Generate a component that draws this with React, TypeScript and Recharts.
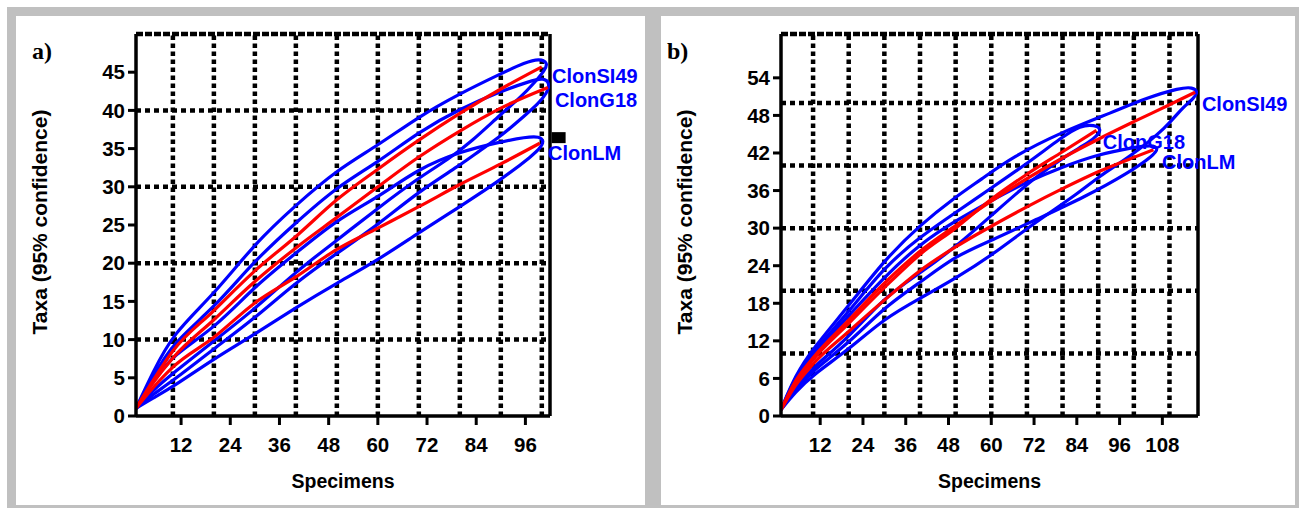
import React from "react";
import { LineChart, Line, XAxis, YAxis, ReferenceLine, ReferenceDot, Label } from "recharts";

type Pt = { x: number; y: number };
const pts = (rows: number[][]): Pt[] => rows.map(([x, y]) => ({ x, y }));

// ---- panel a ----
const aTicksX = [12, 24, 36, 48, 60, 72, 84, 96];
const aTicksY = [0, 5, 10, 15, 20, 25, 30, 35, 40, 45];
const aGridX = [10, 20, 30, 40, 50, 60, 70, 80, 90, 100];
const aGridY = [10, 20, 30, 40];

const aSI49Mean = pts([[1, 1], [5, 4.5], [10, 8.5], [20, 13.8], [30, 19], [40, 23.5], [50, 28.3], [60, 32.3], [70, 36.1], [80, 39.6], [90, 42.8], [100, 45.7]]);
const aSI49Band = pts([
  [1, 1], [5, 5.6], [10, 10.8], [20, 15.9], [30, 22.6], [40, 27.6], [50, 32.2], [60, 35.4], [70, 39.2], [80, 42.2], [90, 44.8], [96, 46.3], [99.5, 46.8], [101.5, 46.2],
  [100.8, 45.3], [98, 43.5], [95, 41.8], [90, 39.5], [83, 36], [77, 33.5], [70, 31.2], [60, 27.2], [50, 23], [40, 18.9], [30, 14], [20, 9.8], [10, 5.6], [5, 3.3], [1, 1],
]);
const aG18Mean = pts([[1, 1], [5, 4.2], [10, 7.6], [20, 12.6], [30, 17.6], [40, 22], [50, 26], [60, 30], [70, 33.9], [80, 37.3], [90, 40.3], [101.5, 43]]);
const aG18Band = pts([
  [1, 1], [5, 5], [10, 9.6], [20, 14.1], [30, 20.4], [40, 25.3], [50, 30], [60, 33.2], [70, 37.2], [80, 40.2], [90, 42.5], [97, 43.8], [100.5, 44.3], [102, 43.5],
  [101.3, 42.3], [99, 40.8], [96, 39.4], [90, 36.6], [85, 34.8], [80, 32.8], [70, 29.4], [60, 25], [50, 21.3], [40, 17.5], [30, 12.8], [20, 8.8], [10, 4.6], [5, 2.8], [1, 1],
]);
const aLMMean = pts([[1, 1], [5, 3.6], [10, 6.4], [20, 10.3], [30, 14.8], [40, 18.2], [50, 21.8], [60, 24.6], [70, 27.4], [80, 30.3], [90, 33], [99.5, 35.7]]);
const aLMBand = pts([
  [1, 1], [5, 4.4], [10, 8], [20, 11.4], [30, 17], [40, 21.3], [50, 25.7], [60, 28.6], [70, 32.4], [80, 34.6], [90, 35.9], [96, 36.5], [99.5, 36.6], [100.5, 36],
  [99.8, 35.2], [98, 34.2], [90, 30.9], [80, 27.4], [70, 24], [60, 20.4], [50, 17.4], [40, 14.2], [30, 10.7], [20, 7.5], [10, 3.8], [5, 2.3], [1, 1],
]);

// ---- panel b ----
const bTicksX = [12, 24, 36, 48, 60, 72, 84, 96, 108];
const bTicksY = [0, 6, 12, 18, 24, 30, 36, 42, 48, 54];
const bGridX = [10, 20, 30, 40, 50, 60, 70, 80, 90, 100, 110];
const bGridY = [10, 20, 30, 40, 50];

const bSI49Mean = pts([[1, 1], [5, 5.5], [10, 9.3], [20, 15.3], [30, 21.2], [40, 26.3], [50, 30.4], [60, 34.3], [70, 37.9], [80, 41.2], [90, 44.2], [100, 47], [110, 49.7], [117.2, 51.7]]);
const bSI49Band = pts([
  [1, 1], [5, 6.5], [10, 10.8], [20, 17.6], [30, 24.9], [40, 30.5], [50, 35], [57, 37.7], [66, 41.4], [80, 45.4], [94, 48.5], [103.6, 50.8], [113, 52.4], [116.5, 52.5], [118, 51.8],
  [117, 50.8], [113, 48.9], [109.4, 46.2], [99, 41.4], [90, 38.2], [85, 35.8], [71, 30.4], [60, 25.6], [50, 22], [40, 18.8], [30, 15.6], [20, 10.6], [10, 6.6], [5, 3.8], [1, 1],
]);
const bG18Mean = pts([[1, 1], [5, 5.3], [10, 9], [20, 14.8], [30, 20.5], [40, 25.8], [50, 30], [60, 34.6], [70, 38.6], [80, 42.2], [89.5, 45.6]]);
const bG18Band = pts([
  [1, 1], [5, 6.2], [10, 10.3], [20, 16.6], [30, 23.8], [40, 28.6], [50, 32.5], [60, 36.4], [70, 40.3], [80, 44.6], [85, 46.4], [89, 46.5], [91, 45.8],
  [89.5, 44.6], [86, 43.2], [81.6, 41.8], [72.3, 38.2], [60, 32], [50, 27], [40, 22.8], [30, 19], [20, 12.5], [10, 7.8], [5, 4.6], [1, 1],
]);
const bLMMean = pts([[1, 1], [5, 4.8], [10, 8.3], [20, 13.5], [30, 18.5], [40, 23.2], [50, 27], [60, 30.3], [70, 33.4], [80, 36.3], [90, 39], [100, 41.3], [105.5, 42.5]]);
const bLMBand = pts([
  [1, 1], [5, 5.8], [10, 9.8], [20, 16], [30, 22.2], [40, 27.5], [50, 31.2], [60, 34.4], [70, 37.4], [80, 39.8], [90, 41.8], [100, 42.9], [105, 43.3], [107, 42.8],
  [105.5, 41.6], [98.4, 38.8], [86.3, 35], [72.3, 31.3], [60, 28], [50, 25.6], [40, 21.3], [30, 17.4], [20, 11.6], [10, 7.3], [5, 4.2], [1, 1],
]);

const SANS = "'Liberation Sans', Arial, Helvetica, sans-serif";
const RED = "#ff0000";
const BLUE = "#0000ff";

const tickStyle = { fill: "#000", fontSize: 20.5, fontWeight: 700, fontFamily: SANS };
const seriesLabel = { fill: BLUE, fontSize: 20, fontWeight: 700, fontFamily: SANS };

function YTitle(props: any) {
  const vb = props.viewBox || { x: 20, y: 18, width: 100, height: 382 };
  const cx = vb.x + 3;
  const cy = vb.y + vb.height / 2 - 3;
  return (
    <text x={cx} y={cy} transform={`rotate(-90, ${cx}, ${cy})`} textAnchor="middle" dominantBaseline="central"
      fill="#000" fontSize={21} fontWeight={700} fontFamily={SANS}>
      Taxa (95% confidence)
    </text>
  );
}

function XTitle(props: any) {
  const vb = props.viewBox || { x: 120, y: 400, width: 414, height: 80 };
  return (
    <text x={vb.x + vb.width / 2} y={vb.y + 72} textAnchor="middle" fill="#000" fontSize={19.5} fontWeight={700} fontFamily={SANS}>
      Specimens
    </text>
  );
}

type Series = { mean: Pt[]; band: Pt[] };

function Panel(props: {
  width: number; right: number; xMax: number; yMax: number; xTicks: number[]; yTicks: number[];
  gridX: number[]; gridY: number[]; series: Series[]; extras: React.ReactNode[];
}) {
  const { width, xMax, yMax } = props;
  return (
    <LineChart width={width} height={489} margin={{ top: 18, right: props.right, bottom: 9, left: 20 }}>
      <XAxis dataKey="x" type="number" domain={[1, xMax]} ticks={props.xTicks} interval={0} allowDataOverflow
        height={80} tick={tickStyle} tickSize={9} tickMargin={12}
        axisLine={{ stroke: "#000", strokeWidth: 3.5 }} tickLine={{ stroke: "#000", strokeWidth: 3 }}>
        <Label content={XTitle} />
      </XAxis>
      <YAxis type="number" domain={[0, yMax]} ticks={props.yTicks} interval={0} allowDataOverflow
        width={100} tick={tickStyle} tickSize={8} tickMargin={3}
        axisLine={{ stroke: "#000", strokeWidth: 3.5 }} tickLine={{ stroke: "#000", strokeWidth: 3 }}>
        <Label content={YTitle} />
      </YAxis>
      {props.gridX.map((v) => (
        <ReferenceLine key={"gx" + v} x={v} stroke="#000" strokeWidth={4.5} strokeDasharray="4.5 3.5" />
      ))}
      {props.gridY.map((v) => (
        <ReferenceLine key={"gy" + v} y={v} stroke="#000" strokeWidth={4.5} strokeDasharray="5 4" />
      ))}
      <ReferenceLine y={yMax} stroke="#000" strokeWidth={4.5} strokeDasharray="7 2" />
      <ReferenceLine x={xMax} stroke="#000" strokeWidth={3.5} />
      {props.series.map((s, i) => (
        <Line key={"b" + i} data={s.band} dataKey="y" type="basis" stroke={BLUE} strokeWidth={3.2} dot={false} activeDot={false} isAnimationActive={false} />
      ))}
      {props.series.map((s, i) => (
        <Line key={"m" + i} data={s.mean} dataKey="y" type="monotone" stroke={RED} strokeWidth={3.2} dot={false} activeDot={false} isAnimationActive={false} />
      ))}
      {props.extras}
    </LineChart>
  );
}

const letterStyle: React.CSSProperties = {
  position: "absolute", top: 39, fontFamily: "'Liberation Serif', 'Times New Roman', serif",
  fontWeight: 700, fontSize: 24, lineHeight: 1, color: "#000",
};

export default function App() {
  const aExtras = [
    <ReferenceDot key="l1" x={102.5} y={44.5} r={0} ifOverflow="visible" label={{ value: "ClonSI49", position: "right", offset: 0, ...seriesLabel }} />,
    <ReferenceDot key="l2" x={103.2} y={41.4} r={0} ifOverflow="visible" label={{ value: "ClonG18", position: "right", offset: 0, ...seriesLabel }} />,
    <ReferenceDot key="l3" x={101.5} y={34.4} r={0} ifOverflow="visible" label={{ value: "ClonLM", position: "right", offset: 0, ...seriesLabel }} />,
    <ReferenceDot key="sq" x={104.1} y={36.5} r={6} ifOverflow="visible"
      shape={(p: any) => <rect x={p.cx - 7} y={p.cy - 5} width={14} height={11} fill="#000" />} />,
  ];
  const bExtras = [
    <ReferenceDot key="l1" x={119.1} y={49.8} r={0} ifOverflow="visible" label={{ value: "ClonSI49", position: "right", offset: 0, ...seriesLabel }} />,
    <ReferenceDot key="l2" x={91.3} y={43.7} r={0} ifOverflow="visible" label={{ value: "ClonG18", position: "right", offset: 0, ...seriesLabel }} />,
    <ReferenceDot key="l3" x={107.9} y={40.6} r={0} ifOverflow="visible" label={{ value: "ClonLM", position: "right", offset: 0, ...seriesLabel }} />,
  ];
  return (
    <div style={{ position: "absolute", left: 0, top: 0, width: 1299, height: 508, background: "#fff", overflow: "hidden" }}>
      <div style={{ position: "absolute", left: 7, top: 7, width: 1292, height: 501, background: "#c0c0c0" }} />
      <div style={{ position: "absolute", left: 16, top: 16, width: 629, height: 489, background: "#fff" }}>
        <Panel width={629} right={95} xMax={102} yMax={50} xTicks={aTicksX} yTicks={aTicksY} gridX={aGridX} gridY={aGridY}
          series={[{ mean: aSI49Mean, band: aSI49Band }, { mean: aG18Mean, band: aG18Band }, { mean: aLMMean, band: aLMBand }]}
          extras={aExtras} />
      </div>
      <div style={{ position: "absolute", left: 661, top: 16, width: 634, height: 489, background: "#fff" }}>
        <Panel width={634} right={97} xMax={118} yMax={61} xTicks={bTicksX} yTicks={bTicksY} gridX={bGridX} gridY={bGridY}
          series={[{ mean: bSI49Mean, band: bSI49Band }, { mean: bG18Mean, band: bG18Band }, { mean: bLMMean, band: bLMBand }]}
          extras={bExtras} />
      </div>
      <div style={{ ...letterStyle, left: 32 }}>a)</div>
      <div style={{ ...letterStyle, left: 667 }}>b)</div>
    </div>
  );
}
